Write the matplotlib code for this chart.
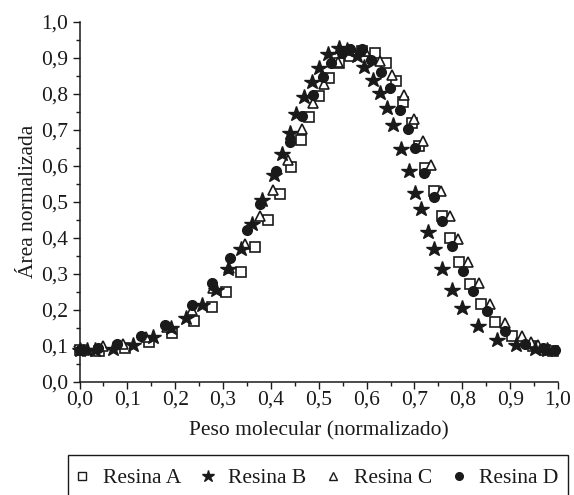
import numpy as np
import matplotlib
matplotlib.use("Agg")
import matplotlib.pyplot as plt
from matplotlib.ticker import MultipleLocator, FixedLocator
from matplotlib.patches import Rectangle

plt.rcParams['font.family'] = ['Liberation Serif', 'DejaVu Serif']
plt.rcParams['font.size'] = 15.5

# Resina A (open squares)
xA = [0.0, 0.04, 0.095, 0.146, 0.194, 0.240, 0.276, 0.306, 0.337, 0.366, 0.394, 0.418,
      0.441, 0.463, 0.480, 0.501, 0.521, 0.543, 0.566, 0.590, 0.618, 0.641, 0.661, 0.677,
      0.694, 0.710, 0.722, 0.740, 0.758, 0.774, 0.793, 0.816, 0.840, 0.869, 0.903, 0.948,
      0.972, 0.990]
yA = [0.088, 0.084, 0.095, 0.109, 0.135, 0.169, 0.207, 0.250, 0.304, 0.374, 0.449, 0.521,
      0.596, 0.670, 0.734, 0.794, 0.845, 0.886, 0.905, 0.920, 0.914, 0.884, 0.835, 0.777,
      0.719, 0.654, 0.593, 0.529, 0.461, 0.400, 0.333, 0.272, 0.216, 0.166, 0.128, 0.098,
      0.088, 0.086]

# Resina B (filled stars)
xB = [0.0, 0.015, 0.032, 0.07, 0.112, 0.153, 0.191, 0.222, 0.257, 0.285, 0.310, 0.337,
      0.361, 0.382, 0.406, 0.424, 0.439, 0.453, 0.470, 0.486, 0.501, 0.519, 0.542, 0.560,
      0.580, 0.595, 0.613, 0.627, 0.642, 0.656, 0.672, 0.689, 0.701, 0.713, 0.729, 0.740,
      0.758, 0.778, 0.800, 0.833, 0.872, 0.913, 0.951, 0.976]
yB = [0.088, 0.087, 0.088, 0.091, 0.103, 0.124, 0.149, 0.177, 0.214, 0.256, 0.312, 0.368,
      0.439, 0.504, 0.573, 0.633, 0.691, 0.745, 0.790, 0.833, 0.872, 0.910, 0.927, 0.922,
      0.904, 0.873, 0.838, 0.803, 0.759, 0.712, 0.647, 0.584, 0.523, 0.480, 0.417, 0.368,
      0.312, 0.256, 0.205, 0.154, 0.116, 0.101, 0.091, 0.088]

# Resina C (open triangles)
xC = [0.01, 0.049, 0.091, 0.138, 0.182, 0.236, 0.279, 0.3125, 0.346, 0.378, 0.404, 0.436,
      0.464, 0.4875, 0.510, 0.540, 0.569, 0.597, 0.628, 0.654, 0.679, 0.700, 0.717, 0.735,
      0.755, 0.774, 0.792, 0.8125, 0.835, 0.858, 0.890, 0.924, 0.944, 0.958, 0.98]
yC = [0.089, 0.098, 0.105, 0.125, 0.151, 0.200, 0.259, 0.315, 0.383, 0.461, 0.533, 0.616,
      0.703, 0.773, 0.828, 0.889, 0.922, 0.919, 0.891, 0.851, 0.796, 0.731, 0.668, 0.602,
      0.529, 0.461, 0.396, 0.333, 0.275, 0.216, 0.163, 0.128, 0.110, 0.102, 0.092]

# Resina D (filled circles)
xD = [0.0, 0.038, 0.078, 0.128, 0.179, 0.235, 0.276, 0.315, 0.351, 0.378, 0.410, 0.439,
      0.465, 0.4875, 0.508, 0.525, 0.549, 0.566, 0.590, 0.610, 0.630, 0.649, 0.670, 0.686,
      0.701, 0.721, 0.741, 0.758, 0.779, 0.802, 0.823, 0.851, 0.889, 0.930, 0.969, 0.993]
yD = [0.088, 0.093, 0.104, 0.128, 0.158, 0.212, 0.275, 0.344, 0.421, 0.495, 0.585, 0.666,
      0.737, 0.796, 0.847, 0.885, 0.912, 0.924, 0.923, 0.895, 0.859, 0.815, 0.754, 0.703,
      0.649, 0.580, 0.514, 0.447, 0.377, 0.307, 0.253, 0.196, 0.140, 0.104, 0.093, 0.088]

ticks = [0.0, 0.1, 0.2, 0.3, 0.4, 0.5, 0.6, 0.7, 0.8, 0.9, 1.0]
tick_labels = ["0,0", "0,1", "0,2", "0,3", "0,4", "0,5", "0,6", "0,7", "0,8", "0,9", "1,0"]
series_names = ['Resina A', 'Resina B', 'Resina C', 'Resina D']

W, H = 574, 495
fig = plt.figure(figsize=(W / 100, H / 100), dpi=100)
ax = fig.add_axes([79.5 / W, 1 - 381.7 / H, 478.5 / W, 360 / H])

ink = '#1a1a1a'
ax.plot(xA, yA, ls='none', marker='s', ms=6.5, mfc='white', mec=ink, mew=1.2,
        clip_on=False, zorder=3)
ax.plot(xB, yB, ls='none', marker='*', ms=11.5, mfc=ink, mec=ink,
        clip_on=False, zorder=4)
ax.plot(xC, yC, ls='none', marker='^', ms=7.5, mfc='white', mec=ink, mew=1.2,
        clip_on=False, zorder=3)
ax.plot(xD, yD, ls='none', marker='o', ms=7, mfc=ink, mec=ink,
        clip_on=False, zorder=4)

ax.set_xlim(0, 1)
ax.set_ylim(0, 1)
ax.xaxis.set_major_locator(FixedLocator(ticks))
ax.yaxis.set_major_locator(FixedLocator(ticks))
ax.set_xticklabels(tick_labels)
ax.set_yticklabels(tick_labels)
ax.xaxis.set_minor_locator(MultipleLocator(0.05))
ax.yaxis.set_minor_locator(MultipleLocator(0.05))
ax.tick_params(which='major', direction='out', length=5, width=1, labelsize=15.5,
               color=ink, labelcolor=ink)
ax.tick_params(axis='x', which='major', pad=1.5)
ax.tick_params(axis='y', which='major', pad=3)
ax.tick_params(which='minor', direction='out', length=3, width=1, color=ink)

for side in ['top', 'right']:
    ax.spines[side].set_visible(False)
for side in ['left', 'bottom']:
    ax.spines[side].set_linewidth(1.1)
    ax.spines[side].set_color(ink)

ax.set_xlabel("Peso molecular (normalizado)", fontsize=15.5, labelpad=8, color=ink)
ax.set_ylabel("Área normalizada", fontsize=15.5, labelpad=2, color=ink)

# boxed legend under the chart (box runs off the bottom edge as in the original)
fig.patches.append(Rectangle((68 / W, -0.02), 500 / W, 0.02 + (1 - 455 / H),
                             transform=fig.transFigure, fill=False,
                             edgecolor=ink, linewidth=1.0))
handles = [
    plt.Line2D([], [], ls='none', marker='s', ms=5.5, mfc='white', mec=ink, mew=1),
    plt.Line2D([], [], ls='none', marker='*', ms=9, mfc=ink, mec=ink),
    plt.Line2D([], [], ls='none', marker='^', ms=6, mfc='white', mec=ink, mew=1),
    plt.Line2D([], [], ls='none', marker='o', ms=5.5, mfc=ink, mec=ink),
]
fig.legend(handles, series_names, loc='center', bbox_to_anchor=(315 / W, 1 - 478 / H),
           ncol=4, fontsize=15.5, frameon=False, handlelength=1.0,
           handletextpad=0.45, borderaxespad=0, borderpad=0, columnspacing=0.75,
           labelcolor=ink)

fig.savefig("out.png", dpi=100)
